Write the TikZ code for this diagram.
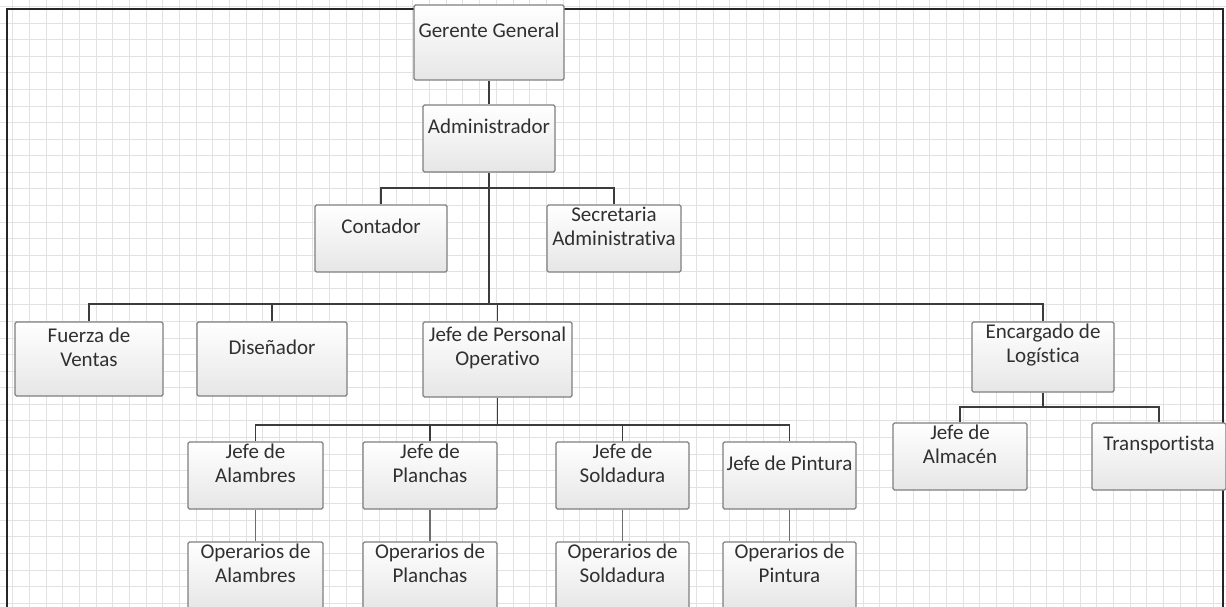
\documentclass[tikz,border=0pt]{standalone}
\usepackage{fontspec}
\setmainfont[Ligatures=NoCommon]{Carlito}

\definecolor{gridline}{HTML}{E2E2E2}
\definecolor{boxedge}{HTML}{7F7F7F}
\definecolor{boxlow}{HTML}{E6E6E6}
\definecolor{linkcol}{HTML}{3C3C3C}
\definecolor{inkcol}{HTML}{303030}

\tikzset{
  box/.style={draw=boxedge, line width=1.3pt, rounded corners=1.5pt,
              top color=white, bottom color=boxlow, inner sep=0pt},
  lbl/.style={align=center, text=inkcol, inner sep=0pt,
              font=\fontsize{21}{24}\selectfont},
  link/.style={draw=linkcol, line width=1.8pt},
  sublink/.style={draw=linkcol!75, line width=1.3pt},
  gridrule/.style={draw=gridline, line width=1pt},
  frameline/.style={draw=black!85, line width=2pt}
}

% #1 name, #2 left, #3 top, #4 right, #5 bottom, #6 title
\newcommand{\orgbox}[6]{%
  \node[box, minimum width={(#4)-(#2)}, minimum height={(#5)-(#3)}]
    (#1) at ({((#2)+(#4))/2},{((#3)+(#5))/2}) {};
  \node[lbl] (#1-t) at ([yshift=12pt]#1.center) {#6};}

\begin{document}
\begin{tikzpicture}[x=1pt, y=-1pt]
\useasboundingbox (0,0) rectangle (1226,607);
\begin{scope}
\clip (0,0) rectangle (1226,607);

% squared paper
\fill[white] (0,0) rectangle (1226,607);
\foreach \k in {0,...,73}
  \draw[gridrule] ({12.7+16.677*\k},0) -- ++(0,607);
\foreach \k in {0,...,36}
  \draw[gridrule] (0,{6.7+16.57*\k}) -- ++(1226,0);

% page frame
\draw[frameline] (7,620) -- (7,9) -- (1223,9) -- (1223,620);

% positions
\orgbox{gg}{414}{5}{564}{80}{Gerente General}
\orgbox{adm}{423}{105}{555}{172}{Administrador}
\orgbox{ct}{315}{205}{447}{272}{Contador}
\orgbox{sec}{547}{205}{681}{272}{Secretaria\\Administrativa}
\orgbox{fv}{15}{322}{163}{396}{Fuerza de\\Ventas}
\orgbox{dis}{197}{322}{347}{396}{Diseñador}
\orgbox{jpo}{423}{322}{572}{397}{Jefe de Personal\\Operativo}
\orgbox{log}{972}{322}{1114}{392}{Encargado de\\Logística}
\orgbox{jal}{188}{442}{323}{509}{Jefe de\\Alambres}
\orgbox{jpl}{363}{442}{497}{509}{Jefe de\\Planchas}
\orgbox{jso}{556}{442}{689}{509}{Jefe de\\Soldadura}
\orgbox{jpi}{723}{442}{856}{509}{Jefe de Pintura}
\orgbox{oal}{188}{542}{323}{609}{Operarios de\\Alambres}
\orgbox{opl}{363}{542}{497}{609}{Operarios de\\Planchas}
\orgbox{oso}{556}{542}{689}{609}{Operarios de\\Soldadura}
\orgbox{opi}{723}{542}{856}{609}{Operarios de\\Pintura}
\orgbox{alm}{893}{423}{1027}{490}{Jefe de\\Almacén}
\orgbox{tra}{1092}{423}{1226}{490}{Transportista}

% bus bars
\coordinate (b2) at (489,188);
\coordinate (b3) at (489,304);
\coordinate (b4) at (497,425);
\coordinate (b5) at (1043,407);

% reporting lines
\draw[link] (gg.south) -- (adm.north);
\draw[link] (adm.south) -- (adm.south |- b3);
\draw[link] (ct.north) |- (b2) -| (sec.north);
\draw[link] (fv.north) |- (b3) -| (log.north);
\draw[link] (dis.north) -- (dis.north |- b3);
\draw[link] (jpo.north) -- (jpo.north |- b3);
\draw[link] (jpo.south) -- (jpo.south |- b4);
\draw[link] (jal.north) |- (b4) -| (jpi.north);
\draw[link] (jpl.north) -- (jpl.north |- b4);
\draw[link] (jso.north) -- (jso.north |- b4);
\draw[link] (log.south) -- (b5);
\draw[link] (alm.north) |- (b5) -| (tra.north);
\draw[sublink] (jal.south) -- (oal.north);
\draw[sublink] (jpl.south) -- (opl.north);
\draw[sublink] (jso.south) -- (oso.north);
\draw[sublink] (jpi.south) -- (opi.north);
\end{scope}
\end{tikzpicture}
\end{document}
